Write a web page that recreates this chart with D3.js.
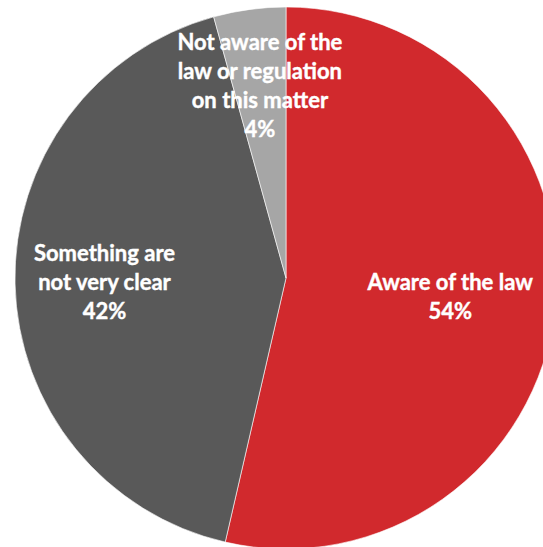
<!DOCTYPE html>
<html>
<head>
<meta charset="utf-8">
<script src="https://cdn.jsdelivr.net/npm/d3@7/dist/d3.min.js"></script>
<style>
  html, body { margin: 0; padding: 0; background: #ffffff; overflow: hidden; }
  svg { display: block; }
</style>
</head>
<body>
<svg id="chart" width="543" height="547"></svg>
<script>
// Survey answers, in clockwise order from 12 o'clock
const categories = ["Aware of the law", "Something are not very clear", "Not aware of the law or regulation on this matter"];
const shares = [53.6, 42.1, 4.3];
const percentLabels = ["54%", "42%", "4%"];
const labelLines = [
  ["Aware of the law"],
  ["Something are", "not very clear"],
  ["Not aware of the", "law or regulation", "on this matter"]
];

const colors = ["#D1292D", "#595959", "#A6A6A6"];

const width = 543, height = 547;
const cx = 286, cy = 278, radius = 271;
// label distance from centre, as a fraction of the radius
const labelRadiusFactor = [0.61, 0.67, 0.715];
const fontSize = 22, lineStep = 29;

const svg = d3.select("#chart");
const g = svg.append("g").attr("transform", `translate(${cx},${cy})`);

const pie = d3.pie().sort(null).value(d => d)
  .startAngle(0).endAngle(2 * Math.PI);
const arcs = pie(shares);

const arc = d3.arc().innerRadius(0).outerRadius(radius);

g.selectAll("path.slice")
  .data(arcs)
  .join("path")
  .attr("class", "slice")
  .attr("d", arc)
  .attr("fill", (d, i) => colors[i])
  .attr("stroke", "#ffffff")
  .attr("stroke-width", 0.6)
  .attr("stroke-linejoin", "round");

// Data labels: category name lines followed by percentage
arcs.forEach((d, i) => {
  const la = d3.arc().innerRadius(radius * labelRadiusFactor[i]).outerRadius(radius * labelRadiusFactor[i]);
  const [lx, ly] = la.centroid(d);
  const lines = labelLines[i].concat([percentLabels[i]]);
  const n = lines.length;
  const text = g.append("text")
    .attr("text-anchor", "middle")
    .attr("fill", "#ffffff")
    .attr("stroke", "#ffffff")
    .attr("stroke-width", 0.4)
    .attr("font-family", "Lato, 'Open Sans', sans-serif")
    .attr("font-weight", "bold")
    .attr("font-size", fontSize);
  lines.forEach((line, k) => {
    text.append("tspan")
      .attr("x", lx)
      .attr("y", ly + (k - (n - 1) / 2) * lineStep + fontSize * 0.36)
      .text(line);
  });
});
</script>
</body>
</html>
